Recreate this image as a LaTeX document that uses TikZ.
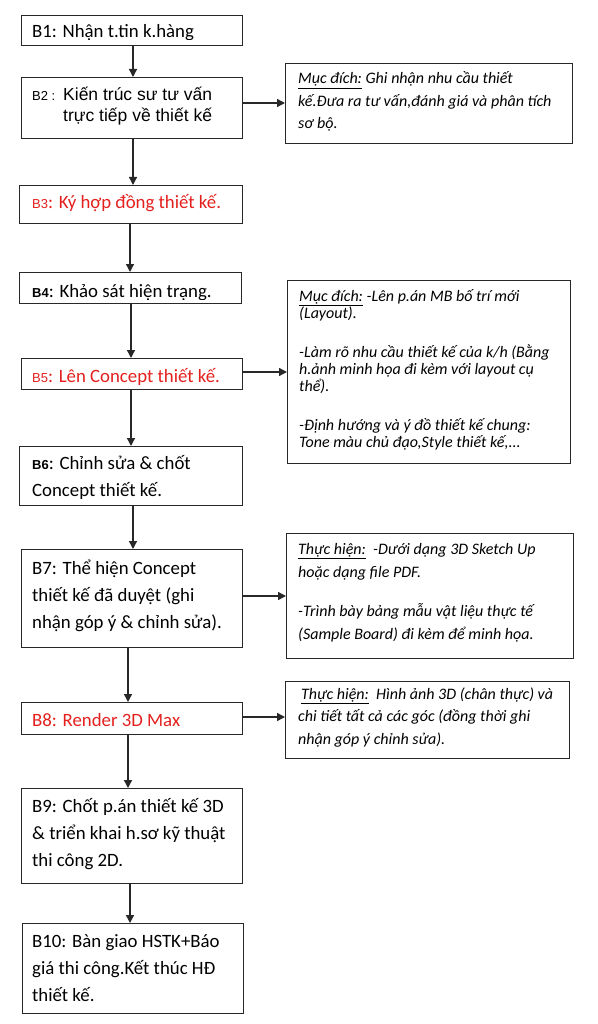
\documentclass[tikz,border=0pt]{standalone}
\usepackage{fontspec}
\setmainfont{Carlito}
\newfontfamily\arialf{Liberation Sans}
\usetikzlibrary{arrows.meta}
\definecolor{redt}{RGB}{228,32,30}
\definecolor{edgec}{RGB}{40,40,40}
\newcommand\smlab[1]{{\arialf\fontsize{13}{15}\selectfont #1}}
\begin{document}
\begin{tikzpicture}[x=1pt,y=-1pt,
 box/.style={draw=edgec, line width=1.3pt, rectangle, inner sep=0pt, anchor=north west},
 txt/.style={anchor=base west, inner sep=0pt, align=left, font=\fontsize{18.8}{27}\selectfont, text=black},
 arialtxt/.style={anchor=base west, inner sep=0pt, align=left, font=\arialf\fontsize{17.5}{21}\selectfont, text=black},
 note/.style={anchor=base west, inner sep=0pt, align=left, font=\fontsize{16}{#1}\selectfont\itshape, text=black},
 arr/.style={line width=1.4pt, draw=edgec, -{Triangle[length=8pt,width=8pt]}},
]
\useasboundingbox (0,0) rectangle (597,1024);
\fill[white] (0,0) rectangle (597,1024);

% main boxes
\node[box, minimum width=221, minimum height=30] (b1) at (21,15) {};
\node[box, minimum width=221, minimum height=61] (b2) at (21,77) {};
\node[box, minimum width=223, minimum height=38] (b3) at (19,185) {};
\node[box, minimum width=222, minimum height=31] (b4) at (19,272) {};
\node[box, minimum width=221, minimum height=31] (b5) at (21,358) {};
\node[box, minimum width=223, minimum height=59] (b6) at (19,446) {};
\node[box, minimum width=221, minimum height=98] (b7) at (21,549) {};
\node[box, minimum width=221, minimum height=32] (b8) at (21,702) {};
\node[box, minimum width=221, minimum height=95] (b9) at (21,788) {};
\node[box, minimum width=221, minimum height=90] (b10) at (22,923) {};

% note boxes
\node[box, minimum width=287, minimum height=80] (n1) at (285,63) {};
\node[box, minimum width=283, minimum height=183] (n2) at (287,280) {};
\node[box, minimum width=287, minimum height=125] (n3) at (286,533) {};
\node[box, minimum width=284, minimum height=77] (n4) at (285,681) {};

% texts (multi-line nodes are placed by the baseline of their last line)
\begin{scope}
\clip (21,15) rectangle (242,39.5);
\node[txt] (t1) at (32,38) {B1: Nhận t.tin k.hàng};
\end{scope}
\node[anchor=base west, inner sep=0pt, font=\arialf\fontsize{13}{15}\selectfont] (l2) at (32,101) {B2 :};
\node[arialtxt] (t2) at (63,122) {Kiến trúc sư tư vấn\\trực tiếp về thiết kế};
\node[txt, text=redt] (t3) at (32,209) {\smlab{B3}: Ký hợp đồng thiết kế.};
\begin{scope}
\clip (19,272) rectangle (241,299);
\node[txt] (t4) at (32,297) {\smlab{\bfseries B4}: Khảo sát hiện trạng.};
\end{scope}
\node[txt, text=redt] (t5) at (32,382) {\smlab{B5}: Lên Concept thiết kế.};
\node[txt] (t6) at (32,496) {\smlab{\bfseries B6}: Chỉnh sửa \& chốt\\Concept thiết kế.};
\node[txt] (t7) at (32,628) {B7: Thể hiện Concept\\thiết kế đã duyệt (ghi\\nhận góp ý \& chỉnh sửa).};
\node[txt, text=redt] (t8) at (32,726) {B8: Render 3D Max};
\node[txt] (t9) at (32,866) {B9: Chốt p.án thiết kế 3D\\\& triển khai h.sơ kỹ thuật\\thi công 2D.};
\node[txt] (t10) at (32,1001) {B10: Bàn giao HSTK+Báo\\giá thi công.Kết thúc HĐ\\thiết kế.};

\node[note=22.5] (m1) at (298,129) {\underline{Mục đích:} Ghi nhận nhu cầu thiết\\kế.Đưa ra tư vấn,đánh giá và phân tích\\sơ bộ.};
\node[note=17] (m2) at (299,447) {\underline{Mục đích:} -Lên p.án MB bố trí mới\\(Layout).\\[22pt]-Làm rõ nhu cầu thiết kế của k/h (Bằng\\h.ảnh minh họa đi kèm với layout cụ\\thể).\\[22pt]-Định hướng và ý đồ thiết kế chung:\\Tone màu chủ đạo,Style thiết kế,...};
\node[note=23] (m3) at (298,639) {\underline{Thực hiện:}\ \ -Dưới dạng 3D Sketch Up\\hoặc dạng file PDF.\\[16pt]-Trình bày bảng mẫu vật liệu thực tế\\(Sample Board) đi kèm để minh họa.};
\node[note=22.5] (m4) at (298,744) {\hspace{3pt}\underline{Thực hiện:}\ \ Hình ảnh 3D (chân thực) và\\chi tiết tất cả các góc (đồng thời ghi\\nhận góp ý chỉnh sửa).};

% connectors
\draw[arr] (133,0 |- b1.south) -- (133,0 |- b2.north);
\draw[arr] (b2.east |- 0,103) -- (n1.west |- 0,103);
\draw[arr] (133,0 |- b2.south) -- (133,0 |- b3.north);
\draw[arr] (130,0 |- b3.south) -- (130,0 |- b4.north);
\draw[arr] (131,0 |- b4.south) -- (131,0 |- b5.north);
\draw[arr] (b5.east |- 0,372) -- (n2.west |- 0,372);
\draw[arr] (131,0 |- b5.south) -- (131,0 |- b6.north);
\draw[arr] (133,0 |- b6.south) -- (133,0 |- b7.north);
\draw[arr] (b7.east |- 0,596) -- (n3.west |- 0,596);
\draw[arr] (128,0 |- b7.south) -- (128,0 |- b8.north);
\draw[arr] (b8.east |- 0,717) -- (n4.west |- 0,717);
\draw[arr] (128,0 |- b8.south) -- (128,0 |- b9.north);
\draw[arr] (130,0 |- b9.south) -- (130,0 |- b10.north);
\end{tikzpicture}
\end{document}
